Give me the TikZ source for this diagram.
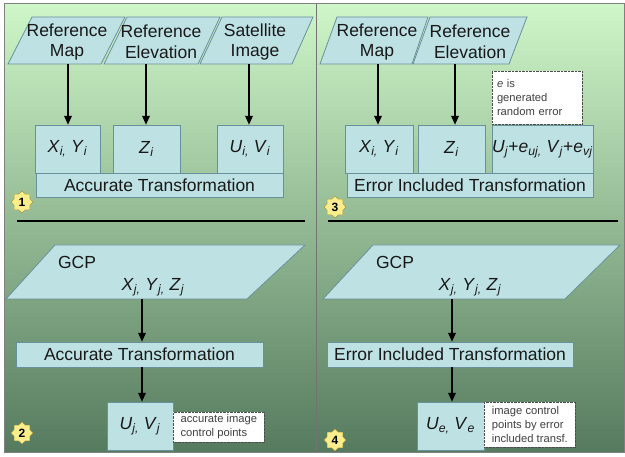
\documentclass[tikz,border=0pt]{standalone}
\usepackage{fontspec}
\setmainfont{Liberation Sans}
\usepackage{xcolor}
\usetikzlibrary{arrows.meta,positioning,shapes.geometric,calc}
\definecolor{boxfill}{RGB}{190,225,228}
\definecolor{boxline}{RGB}{105,145,155}
\definecolor{bgtop}{RGB}{206,246,200}
\definecolor{bgmid}{RGB}{150,190,146}
\definecolor{bgbot}{RGB}{86,122,94}
\definecolor{starfill}{RGB}{250,238,140}
\definecolor{starline}{RGB}{170,150,60}
\newcommand{\isub}[2]{\textit{#1}\textsubscript{\textit{#2}}}
\tikzset{
  valbox/.style={draw=boxline, fill=boxfill, align=center, inner sep=0pt,
    font=\fontsize{17.5}{20}\selectfont, text=black!90},
  para/.style={draw=boxline, fill=boxfill, line width=0.8pt},
  paratext/.style={align=center, inner sep=0pt, font=\fontsize{17.5}{20.5}\selectfont,
    text=black!90},
  note/.style={draw=black!70, densely dotted, fill=white, align=left, inner sep=2pt,
    font=\fontsize{11.2}{14}\selectfont, text=black!75},
  badge/.style={star, star points=8, star point ratio=1.3, minimum size=22pt,
    inner sep=0pt, fill=starfill, draw=starline, font=\bfseries\fontsize{12}{13}\selectfont},
  arrow/.style={-{Triangle[length=9pt,width=7.5pt]}, line width=1.8pt}
}

\begin{document}
\begin{tikzpicture}[x=1pt, y=-1pt]
  \useasboundingbox (0,0) rectangle (625,457);
  % panels
  \fill[white] (0,0) rectangle (625,457);
  \shade[top color=bgtop, middle color=bgmid, bottom color=bgbot] (4,4) rectangle (316,453);
  \shade[top color=bgtop, middle color=bgmid, bottom color=bgbot] (317,4) rectangle (624,453);
  \draw[gray, line width=1pt] (4,4) rectangle (624,453);
  \draw[black!55, line width=1.6pt] (316.5,4) -- (316.5,453);

  % ---- panel 1
  \draw[para] (8,64) -- (101,64) -- (125,17) -- (32,17) -- cycle;
  \draw[para] (104,64) -- (198,64) -- (220,17) -- (127,17) -- cycle;
  \draw[para] (200,64) -- (292,64) -- (313,17) -- (222,17) -- cycle;
  \node[paratext] (refmap1) at (67,42) {Reference\\Map};
  \node[paratext] (refelev1) at (161,42) {Reference\\Elevation};
  \node[paratext] (satimg1) at (255,42) {Satellite\\Image};
  \coordinate (refmap1-s) at (68,64);
  \coordinate (refelev1-s) at (146,64);
  \coordinate (satimg1-s) at (249,64);

  \node[valbox, minimum width=65, minimum height=48] (xy1) at (67.5,149) {\isub{X}{i,}~\isub{Y}{i}};
  \node[valbox, minimum width=67, minimum height=48] (z1) at (146.5,149) {\isub{Z}{i}};
  \node[valbox, minimum width=66, minimum height=48] (uv1) at (250,149) {\isub{U}{i,}~\isub{V}{i}};
  \node[valbox, minimum width=247, minimum height=24] (acc1) at (159.5,185) {Accurate Transformation};

  \draw[arrow] (refmap1-s) -- (refmap1-s |- xy1.north);
  \draw[arrow] (refelev1-s) -- (refelev1-s |- z1.north);
  \draw[arrow] (satimg1-s) -- (satimg1-s |- uv1.north);

  \node[badge] (b1) at (22,202) {1};
  \draw[line width=2pt] (17,221) -- (305,221);

  % ---- panel 2
  \draw[para] (6,299) -- (247,299) -- (305,245) -- (55,245) -- cycle;
  \node[paratext] (gcp2) at (77,262) {GCP};
  \node[paratext] (xyz2) at (153,287) {\isub{X}{j,}~\isub{Y}{j,}~\isub{Z}{j}};
  \coordinate (gcp2-s) at (142,299);
  \node[valbox, minimum width=247, minimum height=25] (acc2) at (139.5,354.5) {Accurate Transformation};
  \node[valbox, minimum width=66, minimum height=48] (uv2) at (140,426) {\isub{U}{j,}~\isub{V}{j}};
  \node[note, minimum width=91, minimum height=30, anchor=west] (note2) at (uv2.east |- 0,427) {accurate image\\control points};

  \draw[arrow] (gcp2-s) -- (gcp2-s |- acc2.north);
  \draw[arrow] (gcp2-s |- acc2.south) -- (gcp2-s |- uv2.north);

  \node[badge] (b2) at (22,433) {2};

  % ---- panel 3
  \draw[para] (320,64) -- (412,64) -- (428,17) -- (337,17) -- cycle;
  \draw[para] (413,64) -- (509,64) -- (527,17) -- (430,17) -- cycle;
  \node[paratext] (refmap3) at (377,42) {Reference\\Map};
  \node[paratext] (refelev3) at (470,42) {Reference\\Elevation};
  \coordinate (refmap3-s) at (378,64);
  \coordinate (refelev3-s) at (455,64);

  \node[note, minimum width=90, minimum height=53, text width=80] (note3) at (537,97.5)
    {\textit{e} is\\generated\\random error};

  \node[valbox, minimum width=68, minimum height=48] (xy3) at (379,149) {\isub{X}{i,}~\isub{Y}{i}};
  \node[valbox, minimum width=67, minimum height=48] (z3) at (451.5,149) {\isub{Z}{i}};
  \node[valbox, minimum width=101, minimum height=48] (uv3) at (542.5,149)
    {\isub{U}{j}+\isub{e}{uj,}~\isub{V}{j}+\isub{e}{vj}};
  \node[valbox, minimum width=246, minimum height=24] (err3) at (470,185) {Error Included Transformation};

  \draw[arrow] (refmap3-s) -- (refmap3-s |- xy3.north);
  \draw[arrow] (refelev3-s) -- (refelev3-s |- z3.north);

  \node[badge] (b3) at (335,207) {3};
  \draw[line width=2pt] (328,221) -- (618,221);

  % ---- panel 4
  \draw[para] (323,299) -- (565,299) -- (620,245) -- (373,245) -- cycle;
  \node[paratext] (gcp4) at (395,262) {GCP};
  \node[paratext] (xyz4) at (470,287) {\isub{X}{j,}~\isub{Y}{j,}~\isub{Z}{j}};
  \coordinate (gcp4-s) at (452,299);
  \node[valbox, minimum width=246, minimum height=25] (err4) at (450,354.5) {Error Included Transformation};
  \node[valbox, minimum width=67, minimum height=48] (ue4) at (450.5,426) {\isub{U}{e,}~\isub{V}{e}};
  \node[note, minimum width=91, minimum height=45, anchor=west] (note4) at (ue4.east |- 0,424.5)
    {image control\\points by error\\included transf.};

  \draw[arrow] (gcp4-s) -- (gcp4-s |- err4.north);
  \draw[arrow] (gcp4-s |- err4.south) -- (gcp4-s |- ue4.north);

  \node[badge] (b4) at (335,440) {4};
\end{tikzpicture}
\end{document}
